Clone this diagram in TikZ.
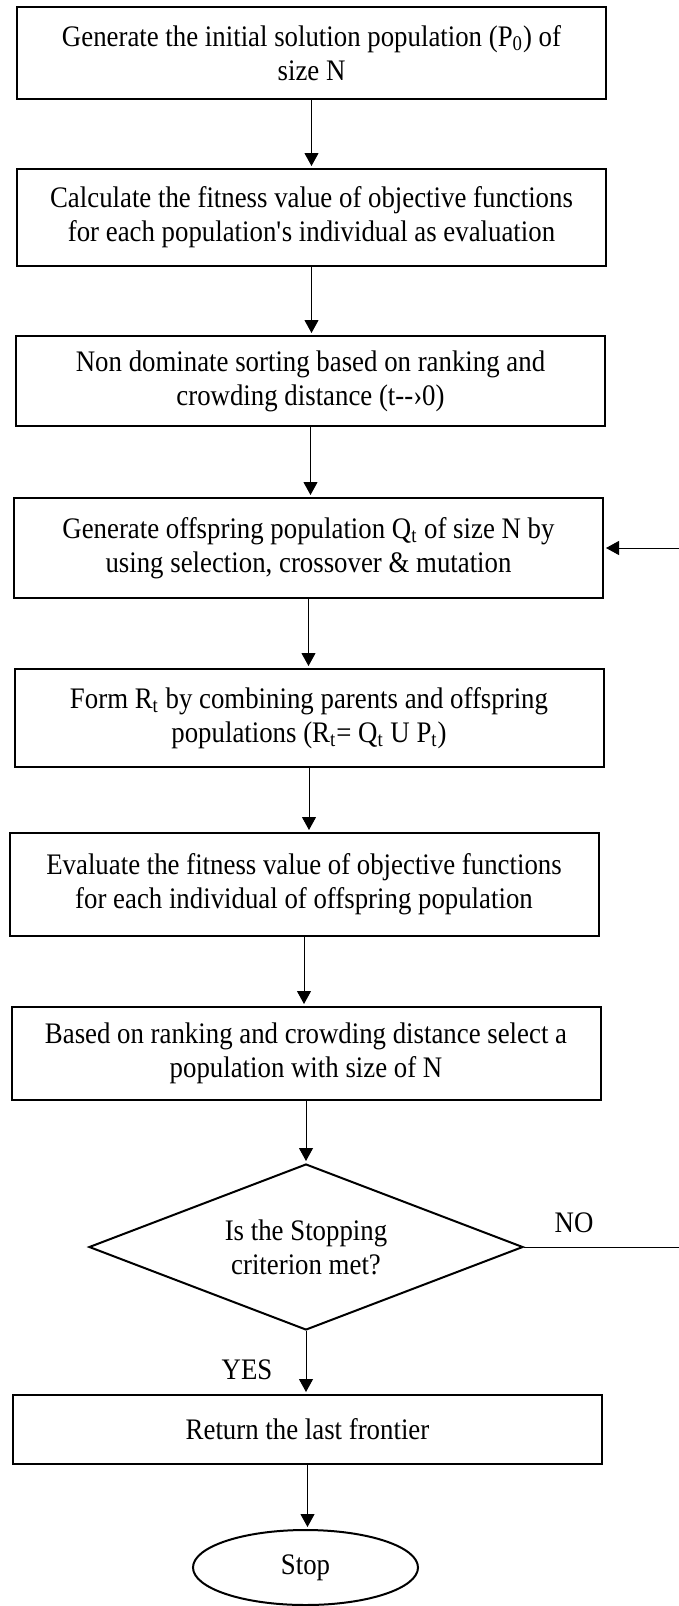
\documentclass[tikz,border=0pt]{standalone}
\usepackage{fontspec}
\setmainfont{Liberation Serif}[FakeStretch=0.9]
\usetikzlibrary{shapes.geometric, arrows.meta, calc}

\begin{document}
\begin{tikzpicture}[x=0.5pt,y=-0.5pt,
    txt/.style={font=\fontsize{14.9}{17}\selectfont},
    box/.style={txt, draw, line width=1pt, minimum width=294.5pt, inner sep=0pt, align=center},
    decision/.style={txt, draw, diamond, line width=1pt, aspect=2.6, minimum width=217pt, minimum height=83pt, inner sep=0pt, align=center},
    terminal/.style={txt, draw, ellipse, line width=1pt, minimum width=112.5pt, minimum height=37.5pt, inner sep=0pt},
    arr/.style={-{Triangle[length=6.5pt,width=7pt]}, line width=0.5pt, shorten >=1pt}]
      \useasboundingbox (0,0) rectangle (679,1606);

      \node[box, minimum height=46pt] (init) at (311.5,53) {Generate the initial solution population (P\textsubscript{0}) of\\size N};
      \node[box, minimum height=48.5pt] (fitness) at (311.5,217.5) {Calculate the fitness value of objective functions\\for each population\textquotesingle s individual as evaluation};
      \node[box, minimum height=45pt] (sorting) at (310.5,381) {Non dominate sorting based on ranking and\\crowding distance (t-{}-›0)};
      \node[box, minimum height=50pt] (offspring) at (308.5,548) {Generate offspring population Q\textsubscript{t} of size N by\\using selection, crossover \& mutation};
      \node[box, minimum height=49pt] (combine) at (309,718) {Form R\textsubscript{t} by combining parents and offspring\\populations (R\textsubscript{t}= Q\textsubscript{t} U P\textsubscript{t})};
      \node[box, minimum height=51.5pt] (evaluate) at (304,884.5) {Evaluate the fitness value of objective functions\\for each individual of offspring population};
      \node[box, minimum height=46.5pt] (select) at (306,1053.5) {Based on ranking and crowding distance select a\\population with size of N};
      \node[decision] (check) at (306,1247) {Is the Stopping\\criterion met?};
      \node[box, minimum height=34.5pt] (frontier) at (307.5,1429.5) {Return the last frontier};
      \node[terminal] (stop) at (305.5,1567.5) {Stop};

      \coordinate (noend) at (679,1247);
      \coordinate (noback) at (679,548);

      \draw[arr] (init.south) -- (init.south |- fitness.north);
      \draw[arr] (fitness.south) -- (fitness.south |- sorting.north);
      \draw[arr] (sorting.south) -- (sorting.south |- offspring.north);
      \draw[arr] (offspring.south) -- (offspring.south |- combine.north);
      \draw[arr] (combine.south) -- (combine.south |- evaluate.north);
      \draw[arr] (evaluate.south) -- (evaluate.south |- select.north);
      \draw[arr] (select.south) -- (select.south |- check.north);
      \draw[arr] (check.south) -- (check.south |- frontier.north);
      \draw[arr] (frontier.south) -- (frontier.south |- stop.north);

      \draw[line width=0.5pt] (check.east) -- (noend);
      \draw[arr] (noback) -- (offspring.east);
      \node[txt] (no) at (574,1223) {NO};
      \node[txt] (yes) at (247,1370) {YES};
\end{tikzpicture}
\end{document}
